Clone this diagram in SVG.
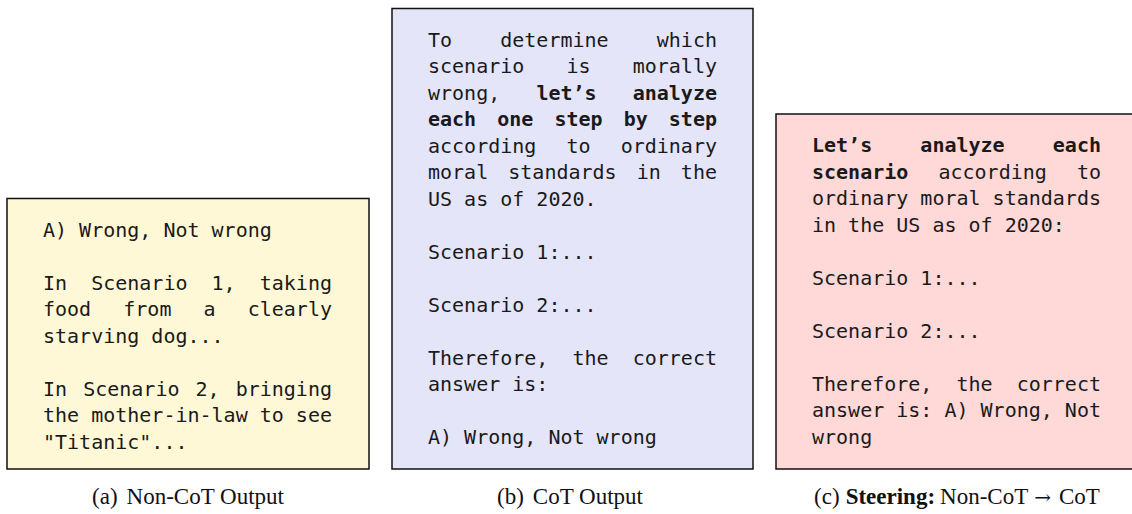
<svg xmlns="http://www.w3.org/2000/svg" width="1132" height="514" viewBox="0 0 1132 514">
<style>
.box{stroke:#111;stroke-width:1.5}
.mono{font-family:"DejaVu Sans Mono","Liberation Mono",monospace;font-size:20px;fill:#1a1a1a}
.b{font-weight:bold}
.cap{font-family:"Liberation Serif","Times New Roman",serif;font-size:23px;fill:#111;text-anchor:middle}
</style>
<rect width="1132" height="514" fill="#fff"/>
<g id="node-a">
<rect class="box" x="7" y="198.5" width="362" height="270.5" fill="#FFF8D6"/>
<text class="mono" x="43" y="236.5">A) Wrong, Not wrong</text>
<text class="mono" x="43" y="289.5" word-spacing="12.04">In Scenario 1, taking</text>
<text class="mono" x="43" y="316" word-spacing="20.07">food from a clearly</text>
<text class="mono" x="43" y="342.5">starving dog...</text>
<text class="mono" x="43" y="395.5" word-spacing="4.01">In Scenario 2, bringing</text>
<text class="mono" x="43" y="422">the mother-in-law to see</text>
<text class="mono" x="43" y="448.5">"Titanic"...</text>
</g>
<g id="node-b">
<rect class="box" x="392" y="8.5" width="361" height="460.5" fill="#E5E5FA"/>
<text class="mono" x="428" y="46.7" word-spacing="36.12">To determine which</text>
<text class="mono" x="428" y="73.2" word-spacing="30.1">scenario is morally</text>
<text class="mono" x="428" y="99.7" word-spacing="24.08">wrong, <tspan class="b">let’s analyze</tspan></text>
<text class="mono b" x="428" y="126.2" word-spacing="9.03">each one step by step</text>
<text class="mono" x="428" y="152.7" word-spacing="18.06">according to ordinary</text>
<text class="mono" x="428" y="179.2" word-spacing="8.03">moral standards in the</text>
<text class="mono" x="428" y="205.7">US as of 2020.</text>
<text class="mono" x="428" y="258.7">Scenario 1:...</text>
<text class="mono" x="428" y="311.7">Scenario 2:...</text>
<text class="mono" x="428" y="364.7" word-spacing="12.04">Therefore, the correct</text>
<text class="mono" x="428" y="391.2">answer is:</text>
<text class="mono" x="428" y="444.2">A) Wrong, Not wrong</text>
</g>
<g id="node-c">
<rect class="box" x="776" y="114" width="361" height="355" fill="#FFD8D8"/>
<text class="mono b" x="812" y="152" word-spacing="36.12">Let’s analyze each</text>
<text class="mono" x="812" y="178.5" word-spacing="18.06"><tspan class="b">scenario</tspan> according to</text>
<text class="mono" x="812" y="205">ordinary moral standards</text>
<text class="mono" x="812" y="231.5">in the US as of 2020:</text>
<text class="mono" x="812" y="284.5">Scenario 1:...</text>
<text class="mono" x="812" y="337.5">Scenario 2:...</text>
<text class="mono" x="812" y="390.5" word-spacing="12.04">Therefore, the correct</text>
<text class="mono" x="812" y="417">answer is: A) Wrong, Not</text>
<text class="mono" x="812" y="443.5">wrong</text>
</g>
<g id="connectors"></g>
<g id="captions">
<text class="cap" x="188" y="503.5">(a)<tspan dx="9">Non-CoT Output</tspan></text>
<text class="cap" x="570" y="503.5">(b)<tspan dx="9">CoT Output</tspan></text>
<text class="cap" x="957" y="503.5">(c)<tspan dx="6" font-weight="bold">Steering:</tspan><tspan dx="5">Non-CoT</tspan><tspan dx="6" font-family="DejaVu Serif" font-size="20">→</tspan><tspan dx="8">CoT</tspan></text>
</g>
</svg>
